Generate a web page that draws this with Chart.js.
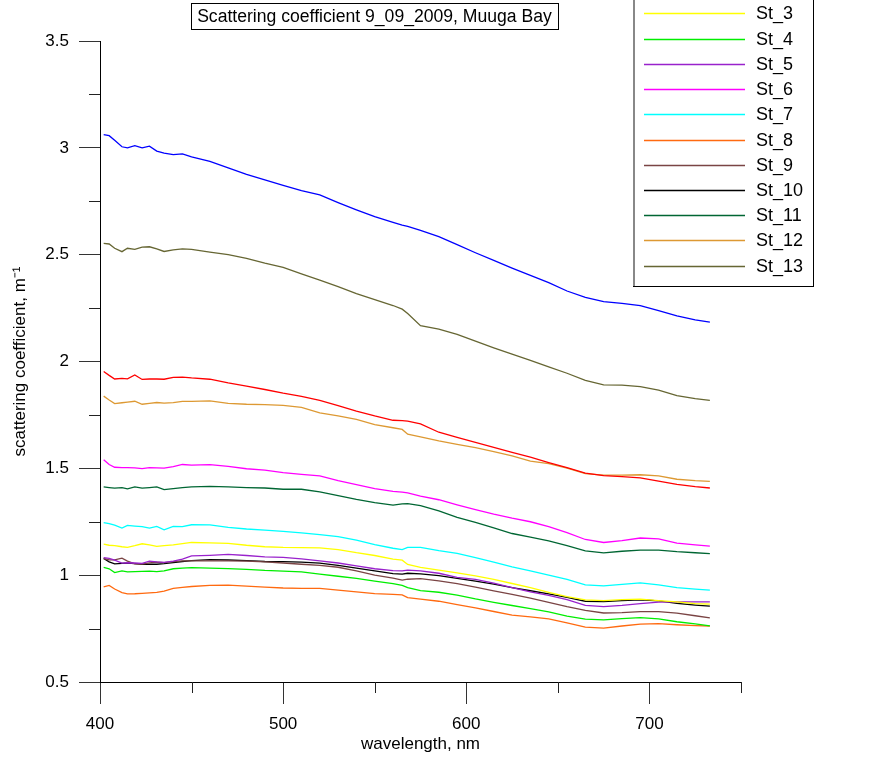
<!DOCTYPE html>
<html>
<head>
<meta charset="utf-8">
<title>Scattering coefficient 9_09_2009, Muuga Bay</title>
<script src="https://cdn.jsdelivr.net/npm/chart.js@4.4.0/dist/chart.umd.min.js"></script>
<style>
  html, body { margin: 0; padding: 0; background: #fff; }
  canvas { display: block; }
</style>
</head>
<body>
<canvas id="chart" width="879" height="757"></canvas>
<script>
// wavelength grid, nm
const WAVELENGTHS = [402, 405, 408, 412, 415, 419, 423, 427, 431, 435, 440, 445, 450, 460, 470, 480, 490, 500, 510, 520,
    530, 540, 550, 560, 565, 568, 575, 585, 595, 605, 615, 625, 635, 645, 655, 665, 675, 685, 695, 705, 715, 725, 733];

const ST_1 = [3.062, 3.057, 3.035, 3.005, 3.0, 3.01, 3.0, 3.008, 2.985, 2.975, 2.968, 2.972, 2.958, 2.937, 2.906, 2.876, 2.85, 2.824, 2.80, 2.78,
    2.744, 2.71, 2.678, 2.651, 2.638, 2.632, 2.614, 2.584, 2.547, 2.509, 2.473, 2.437, 2.403, 2.369, 2.33, 2.30, 2.28, 2.272, 2.262, 2.238, 2.213, 2.195, 2.184];
const ST_2 = [1.953, 1.935, 1.918, 1.921, 1.919, 1.937, 1.916, 1.918, 1.918, 1.917, 1.926, 1.927, 1.923, 1.917, 1.90, 1.885, 1.869, 1.852, 1.837, 1.818,
    1.794, 1.768, 1.745, 1.725, 1.723, 1.721, 1.708, 1.669, 1.645, 1.622, 1.598, 1.575, 1.552, 1.527, 1.503, 1.478, 1.466, 1.461, 1.455, 1.44, 1.425, 1.414, 1.408];
const ST_3 = [1.145, 1.14, 1.138, 1.133, 1.13, 1.138, 1.147, 1.142, 1.135, 1.138, 1.142, 1.148, 1.153, 1.151, 1.149, 1.14, 1.133, 1.13, 1.129, 1.128,
    1.12, 1.105, 1.092, 1.075, 1.07, 1.05, 1.036, 1.024, 1.011, 0.997, 0.98, 0.961, 0.942, 0.92, 0.90, 0.884, 0.881, 0.886, 0.888, 0.881, 0.875, 0.867, 0.864];
const ST_4 = [1.036, 1.03, 1.012, 1.02, 1.015, 1.017, 1.018, 1.019, 1.017, 1.02, 1.03, 1.033, 1.035, 1.033, 1.031, 1.027, 1.022, 1.019, 1.015, 1.005,
    0.995, 0.985, 0.972, 0.96, 0.952, 0.942, 0.928, 0.92, 0.907, 0.889, 0.873, 0.858, 0.843, 0.828, 0.808, 0.794, 0.791, 0.797, 0.801, 0.795, 0.782, 0.772, 0.763];
const ST_5 = [1.082, 1.079, 1.07, 1.056, 1.058, 1.057, 1.055, 1.066, 1.062, 1.06, 1.066, 1.075, 1.09, 1.093, 1.097, 1.092, 1.086, 1.083, 1.076, 1.067,
    1.057, 1.043, 1.03, 1.021, 1.02, 1.024, 1.02, 1.009, 0.99, 0.98, 0.963, 0.942, 0.922, 0.905, 0.885, 0.859, 0.853, 0.859, 0.867, 0.874, 0.875, 0.875, 0.875];
const ST_6 = [1.54, 1.518, 1.505, 1.503, 1.503, 1.502, 1.499, 1.503, 1.502, 1.501, 1.508, 1.518, 1.515, 1.517, 1.509, 1.498, 1.492, 1.48, 1.472, 1.465,
    1.442, 1.424, 1.405, 1.392, 1.389, 1.385, 1.37, 1.353, 1.329, 1.307, 1.286, 1.267, 1.25, 1.227, 1.199, 1.167, 1.153, 1.162, 1.174, 1.17, 1.15, 1.142, 1.136];
const ST_7 = [1.246, 1.241, 1.234, 1.22, 1.233, 1.23, 1.227, 1.22, 1.228, 1.212, 1.228, 1.227, 1.236, 1.235, 1.224, 1.216, 1.211, 1.205, 1.198, 1.19,
    1.18, 1.164, 1.143, 1.126, 1.12, 1.13, 1.13, 1.115, 1.102, 1.082, 1.061, 1.039, 1.02, 1.0, 0.98, 0.955, 0.95, 0.957, 0.964, 0.955, 0.942, 0.935, 0.93];
const ST_8 = [0.945, 0.952, 0.935, 0.918, 0.912, 0.913, 0.915, 0.917, 0.919, 0.925, 0.938, 0.943, 0.947, 0.952, 0.953, 0.949, 0.944, 0.94, 0.938, 0.938,
    0.93, 0.922, 0.914, 0.91, 0.908, 0.895, 0.888, 0.878, 0.862, 0.847, 0.83, 0.813, 0.805, 0.795, 0.777, 0.757, 0.752, 0.762, 0.771, 0.773, 0.768, 0.764, 0.762];
const ST_9 = [1.078, 1.072, 1.072, 1.08, 1.066, 1.053, 1.052, 1.058, 1.061, 1.059, 1.063, 1.067, 1.067, 1.067, 1.067, 1.066, 1.062, 1.057, 1.051, 1.046,
    1.037, 1.02, 1.0, 0.986, 0.977, 0.981, 0.984, 0.973, 0.96, 0.944, 0.927, 0.91, 0.893, 0.873, 0.853, 0.835, 0.823, 0.825, 0.829, 0.829, 0.822, 0.81, 0.80];
const ST_10 = [1.078, 1.062, 1.053, 1.055, 1.057, 1.054, 1.051, 1.051, 1.051, 1.054, 1.059, 1.064, 1.068, 1.073, 1.071, 1.068, 1.064, 1.063, 1.061, 1.056,
    1.046, 1.033, 1.02, 1.007, 1.005, 1.009, 1.006, 0.998, 0.985, 0.972, 0.958, 0.942, 0.927, 0.912, 0.896, 0.878, 0.876, 0.881, 0.885, 0.88, 0.868, 0.86, 0.855];
const ST_11 = [1.413, 1.41, 1.407, 1.41, 1.404, 1.413, 1.407, 1.41, 1.413, 1.40, 1.405, 1.41, 1.413, 1.416, 1.413, 1.41, 1.408, 1.402, 1.402, 1.39,
    1.372, 1.355, 1.34, 1.328, 1.334, 1.335, 1.326, 1.301, 1.271, 1.247, 1.221, 1.195, 1.178, 1.16, 1.138, 1.114, 1.104, 1.112, 1.117, 1.117, 1.11, 1.105, 1.101];
const ST_12 = [1.838, 1.82, 1.803, 1.807, 1.81, 1.814, 1.80, 1.804, 1.808, 1.805, 1.808, 1.813, 1.813, 1.816, 1.804, 1.80, 1.798, 1.795, 1.785, 1.76,
    1.746, 1.729, 1.705, 1.69, 1.682, 1.66, 1.647, 1.628, 1.612, 1.597, 1.578, 1.558, 1.534, 1.522, 1.501, 1.475, 1.468, 1.468, 1.47, 1.465, 1.449, 1.442, 1.439];
const ST_13 = [2.553, 2.55, 2.53, 2.514, 2.53, 2.525, 2.535, 2.537, 2.527, 2.515, 2.522, 2.527, 2.525, 2.512, 2.50, 2.483, 2.46, 2.44, 2.41, 2.381,
    2.35, 2.318, 2.29, 2.262, 2.245, 2.225, 2.168, 2.152, 2.127, 2.095, 2.064, 2.035, 2.005, 1.975, 1.945, 1.912, 1.891, 1.889, 1.882, 1.866, 1.84, 1.826, 1.818];

const STATIONS = ['St_1', 'St_2', 'St_3', 'St_4', 'St_5', 'St_6', 'St_7', 'St_8', 'St_9', 'St_10', 'St_11', 'St_12', 'St_13'];
const SERIES = [ST_1, ST_2, ST_3, ST_4, ST_5, ST_6, ST_7, ST_8, ST_9, ST_10, ST_11, ST_12, ST_13];
const COLORS = ['#0000ff', '#ff0000', '#ffff00', '#00ee00', '#9922cc', '#ff00ff', '#00ffff', '#ff6a10',
    '#7a4444', '#000000', '#006633', '#dd9933', '#666633'];

const X_MINOR = [450, 550, 650, 750];
const Y_MINOR = [0.75, 1.25, 1.75, 2.25, 2.75, 3.25];

const FONT = "'Liberation Sans', Arial, sans-serif";
Chart.defaults.font.family = FONT;
Chart.defaults.color = '#000';

// short minor ticks, the library only draws one tick length
const minorTicks = {
    id: 'minorTicks',
    afterDraw(chart) {
        const ctx = chart.ctx;
        const x = chart.scales.x, y = chart.scales.y;
        ctx.save();
        ctx.strokeStyle = '#222';
        ctx.lineWidth = 1;
        ctx.beginPath();
        X_MINOR.forEach((v) => {
            const px = Math.round(x.getPixelForValue(v)) + 0.5;
            ctx.moveTo(px, y.bottom);
            ctx.lineTo(px, y.bottom + 11);
        });
        Y_MINOR.forEach((v) => {
            const py = Math.round(y.getPixelForValue(v)) + 0.5;
            ctx.moveTo(x.left - 11, py);
            ctx.lineTo(x.left, py);
        });
        ctx.stroke();
        ctx.restore();
    }
};

const boxTitle = {
    id: 'boxTitle',
    afterDraw(chart) {
        const ctx = chart.ctx;
        const text = 'Scattering coefficient 9_09_2009, Muuga Bay';
        ctx.save();
        ctx.font = '17.6px ' + FONT;
        const w = ctx.measureText(text).width;
        const cx = 374.5, cy = 17;
        ctx.fillStyle = '#fff';
        ctx.fillRect(cx - w / 2 - 6, 3, w + 12, 27);
        ctx.strokeStyle = '#000';
        ctx.lineWidth = 1;
        ctx.strokeRect(Math.round(cx - w / 2 - 6) + 0.5, 3.5, Math.round(w + 12), 26);
        ctx.fillStyle = '#000';
        ctx.textAlign = 'center';
        ctx.textBaseline = 'middle';
        ctx.fillText(text, cx, cy);
        ctx.restore();
    }
};

// legend box, its top runs off the picture like in the original
const legendBox = {
    id: 'legendBox',
    afterDraw(chart) {
        const ctx = chart.ctx;
        const rowH = 25.24;
        const firstY = 13.3 - 2 * rowH;
        const left = 633, right = 813, bottom = 286;
        ctx.save();
        ctx.fillStyle = '#fff';
        ctx.fillRect(left, -80, right - left, bottom + 80);
        ctx.strokeStyle = '#000';
        ctx.lineWidth = 1;
        ctx.strokeRect(left + 0.5, -80, right - left, bottom + 80.5);
        ctx.fillStyle = '#888';
        ctx.fillRect(left, -80, 2, bottom + 80);
        ctx.font = '18px ' + FONT;
        ctx.textBaseline = 'middle';
        ctx.textAlign = 'left';
        chart.data.datasets.forEach((ds, i) => {
            const yy = Math.round(firstY + i * rowH) + 0.5;
            ctx.strokeStyle = ds.borderColor;
            ctx.lineWidth = 1.5;
            ctx.beginPath();
            ctx.moveTo(644, yy);
            ctx.lineTo(745, yy);
            ctx.stroke();
            ctx.fillStyle = '#000';
            ctx.fillText(ds.label, 756, yy + 1);
        });
        ctx.restore();
    }
};

document.addEventListener("DOMContentLoaded", () => {
    const canvas = document.getElementById('chart');

    const datasets = SERIES.map((values, index) => ({
        label: STATIONS[index],
        data: WAVELENGTHS.map((w, i) => ({x: w, y: values[i]})),
        borderColor: COLORS[index],
        backgroundColor: COLORS[index],
        borderWidth: 1.3,
        pointRadius: 0,
        tension: 0,
        fill: false,
    }));

    new Chart(canvas, {
        type: 'line',
        data: {datasets: datasets},
        options: {
            responsive: false,
            animation: false,
            devicePixelRatio: 1,
            layout: {
                padding: {top: 41, right: 138, left: 0, bottom: 0}
            },
            plugins: {
                legend: {display: false},
                title: {display: false},
                tooltip: {enabled: false},
            },
            scales: {
                x: {
                    type: 'linear',
                    position: 'bottom',
                    min: 400,
                    max: 750,
                    afterFit: (scale) => { scale.height = 75; },
                    ticks: {
                        stepSize: 100,
                        includeBounds: false,
                        maxRotation: 0,
                        padding: 10,
                        font: {size: 17},
                        color: '#000',
                    },
                    grid: {
                        drawOnChartArea: false,
                        tickLength: 22,
                        color: '#333',
                    },
                    border: {color: '#000'},
                    title: {
                        display: true,
                        text: 'wavelength, nm',
                        font: {size: 17},
                        color: '#000',
                        padding: {top: 0, bottom: 2},
                    },
                },
                y: {
                    type: 'linear',
                    min: 0.5,
                    max: 3.5,
                    afterFit: (scale) => { scale.width = 100; },
                    ticks: {
                        stepSize: 0.5,
                        padding: 10,
                        font: {size: 17},
                        color: '#000',
                        callback: (value) => String(value),
                    },
                    grid: {
                        drawOnChartArea: false,
                        tickLength: 21,
                        color: '#333',
                    },
                    border: {color: '#000'},
                    title: {
                        display: true,
                        text: 'scattering coefficient, m\u207B\u00B9',
                        font: {size: 17},
                        color: '#000',
                        padding: {top: 10, bottom: 0},
                    },
                },
            },
        },
        plugins: [minorTicks, boxTitle, legendBox],
    });
});
</script>
</body>
</html>
